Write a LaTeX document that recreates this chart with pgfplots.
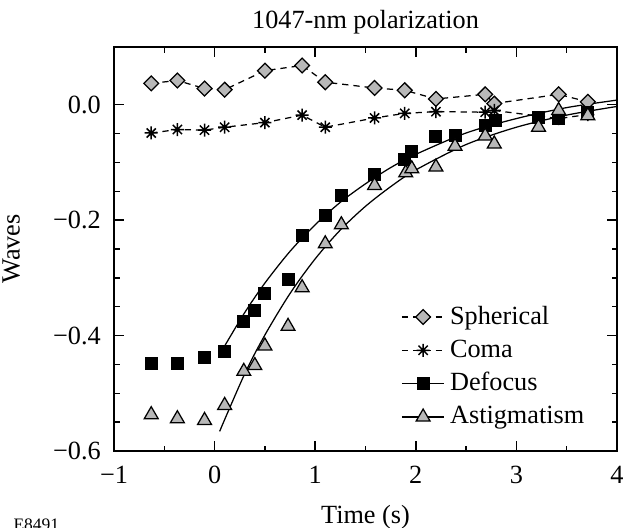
\documentclass[border=0pt]{standalone}
\usepackage{fontspec}
\setmainfont{Liberation Serif}
\usepackage{pgfplots}
\pgfplotsset{compat=1.18}
\definecolor{mgray}{gray}{0.72}
\pgfdeclareplotmark{ast8}{%
  \pgfpathmoveto{\pgfpoint{0pt}{\pgfplotmarksize}}\pgfpathlineto{\pgfpoint{0pt}{-\pgfplotmarksize}}%
  \pgfpathmoveto{\pgfpoint{\pgfplotmarksize}{0pt}}\pgfpathlineto{\pgfpoint{-\pgfplotmarksize}{0pt}}%
  \pgfpathmoveto{\pgfpoint{0.707\pgfplotmarksize}{0.707\pgfplotmarksize}}\pgfpathlineto{\pgfpoint{-0.707\pgfplotmarksize}{-0.707\pgfplotmarksize}}%
  \pgfpathmoveto{\pgfpoint{-0.707\pgfplotmarksize}{0.707\pgfplotmarksize}}\pgfpathlineto{\pgfpoint{0.707\pgfplotmarksize}{-0.707\pgfplotmarksize}}%
  \pgfusepathqstroke}
\begin{document}
\fontsize{10.5}{12.6}\selectfont
\begin{tikzpicture}
\begin{axis}[
  scale only axis, width=201.2pt, height=161.6pt,
  xmin=-1, xmax=4, ymin=-0.6, ymax=0.1,
  xtick={-1,0,1,2,3,4}, xticklabels={−1,0,1,2,3,4},
  ytick={-0.6,-0.4,-0.2,0}, yticklabels={−0.6,−0.4,−0.2,0.0},
  minor x tick num=1, minor y tick num=3,
  tick align=inside, major tick length=4pt, minor tick length=2.2pt,
  axis line style={line width=0.8pt}, every tick/.style={line width=0.6pt, black},
  title={1047-nm polarization}, title style={yshift=-4.5pt},
  xlabel={Time (s)}, ylabel={Waves},
  xticklabel style={yshift=-2.4pt}, yticklabel style={xshift=-1.6pt},
  xlabel style={yshift=-1.2pt}, ylabel style={yshift=6pt},
  legend style={draw=none, fill=none, at={(rel axis cs:0.555,0.385)}, anchor=north west, row sep=0.6pt},
  legend cell align=left,
]
% fitted curves
\addplot[black, line width=0.5pt, smooth, forget plot] coordinates {
(0.1,-0.418)(0.3,-0.360)(0.5,-0.309)(0.75,-0.254)(1.0,-0.208)(1.25,-0.169)(1.5,-0.137)(1.75,-0.109)(2.0,-0.086)(2.5,-0.049)(3.0,-0.024)(3.5,-0.005)(4.0,0.008)};
\addplot[black, line width=0.5pt, smooth, forget plot] coordinates {
(0.05,-0.566)(0.3,-0.466)(0.5,-0.399)(0.75,-0.327)(1.0,-0.267)(1.25,-0.217)(1.5,-0.176)(1.75,-0.142)(2.0,-0.113)(2.5,-0.069)(3.0,-0.039)(3.5,-0.018)(4.0,-0.003)};
% Spherical
\addplot[black, line width=0.5pt, dash pattern=on 2.5pt off 2pt, mark=square*, mark size=2.1pt,
  mark options={solid, fill=mgray, draw=black, rotate=45, line width=0.5pt}, forget plot] coordinates {
(-0.63,0.037)(-0.37,0.042)(-0.10,0.028)(0.10,0.026)(0.50,0.059)(0.87,0.068)(1.10,0.039)(1.59,0.029)(1.89,0.025)(2.20,0.010)(2.69,0.018)(2.78,0.002)(3.42,0.018)(3.71,0.005)};
% Coma
\addplot[black, line width=0.5pt, dash pattern=on 2.5pt off 2pt, mark=ast8, mark size=2.6pt,
  mark options={solid, line width=0.6pt}, forget plot] coordinates {
(-0.63,-0.049)(-0.37,-0.043)(-0.10,-0.044)(0.10,-0.039)(0.50,-0.031)(0.87,-0.018)(1.10,-0.039)(1.59,-0.023)(1.89,-0.015)(2.20,-0.012)(2.69,-0.013)(2.78,-0.010)(3.42,-0.024)(3.71,-0.017)};
% Defocus
\addplot[only marks, mark=square*, mark size=2.4pt, mark options={fill=black, draw=black}, forget plot] coordinates {
(-0.63,-0.448)(-0.37,-0.449)(-0.10,-0.438)(0.10,-0.428)(0.29,-0.375)(0.40,-0.357)(0.50,-0.327)(0.73,-0.303)(0.87,-0.227)(1.10,-0.192)(1.26,-0.158)(1.59,-0.121)(1.89,-0.095)(1.96,-0.081)(2.20,-0.055)(2.39,-0.054)(2.69,-0.036)(2.79,-0.028)(3.22,-0.023)(3.42,-0.024)(3.71,-0.014)};
% Astigmatism
\addplot[only marks, mark=triangle*, mark size=3.2pt, mark options={fill=mgray, draw=black, line width=0.5pt}, forget plot] coordinates {
(-0.63,-0.537)(-0.37,-0.544)(-0.10,-0.547)(0.10,-0.521)(0.29,-0.462)(0.40,-0.452)(0.50,-0.418)(0.73,-0.384)(0.87,-0.317)(1.10,-0.241)(1.26,-0.208)(1.59,-0.140)(1.90,-0.118)(1.96,-0.111)(2.20,-0.108)(2.39,-0.072)(2.69,-0.054)(2.78,-0.068)(3.22,-0.039)(3.42,-0.010)(3.71,-0.019)};
% legend
\addlegendimage{black, line width=0.5pt, dash pattern=on 2.5pt off 2pt, mark=square*, mark size=2.1pt, mark options={solid, fill=mgray, draw=black, rotate=45}}
\addlegendentry{Spherical}
\addlegendimage{black, line width=0.5pt, dash pattern=on 2.5pt off 2pt, mark=ast8, mark size=2.6pt, mark options={solid, line width=0.6pt}}
\addlegendentry{Coma}
\addlegendimage{black, line width=0.5pt, mark=square*, mark size=2.4pt, mark options={fill=black}}
\addlegendentry{Defocus}
\addlegendimage{black, line width=0.5pt, mark=triangle*, mark size=3.2pt, mark options={fill=mgray, draw=black}}
\addlegendentry{Astigmatism}
\coordinate (SW) at (rel axis cs:0,0);
\coordinate (NE) at (rel axis cs:1,1);
\end{axis}
\node[anchor=north west, inner sep=0pt, font=\fontsize{7}{8}\selectfont] at ([shift={(-40.4pt,-26.8pt)}]SW) {E8491};
\path (SW) ++(-45.6pt,-30.4pt) coordinate (BB1);
\path (NE) ++(3.6pt,18.8pt) coordinate (BB2);
\pgfresetboundingbox
\path[use as bounding box] (BB1) rectangle (BB2);
\end{tikzpicture}
\end{document}
